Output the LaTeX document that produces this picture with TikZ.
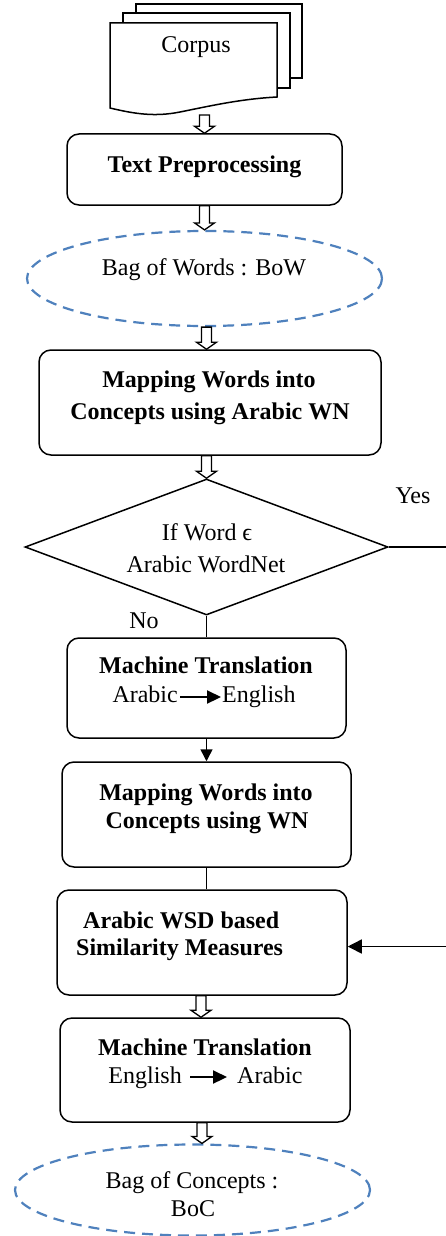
\documentclass[tikz,border=0pt]{standalone}
\usepackage{fontspec}
\setmainfont{Liberation Serif}
\usetikzlibrary{shapes.geometric,arrows.meta,calc}
\definecolor{bagblue}{RGB}{79,129,189}
\begin{document}
\begin{tikzpicture}[x=1pt,y=-1pt,
  every node/.style={font=\fontsize{24}{28}\selectfont},
  box/.style={draw, line width=1.5pt, rounded corners=12pt, inner sep=0pt},
  bag/.style={ellipse, draw=bagblue, line width=2.2pt, dash pattern=on 11pt off 7pt, inner sep=0pt},
  word/.style={inner sep=0pt, anchor=base},
  plainline/.style={draw, line width=1.5pt},
  solidarrow/.style={draw, line width=1.5pt, -{Triangle[length=12pt,width=12pt]}},
  textarrow/.style={draw, line width=2.2pt, -{Triangle[length=14pt,width=13pt]}},
  hollow/.style={draw, line width=1.3pt, to path={let \p1=(\tikztostart), \p2=(\tikztotarget) in
    (\x2-5pt,\y1) -- (\x2+5pt,\y1) -- (\x2+5pt,\y2+7pt) -- (\x2+10pt,\y2+7pt) -- (\x2,\y2)
    -- (\x2-10pt,\y2+7pt) -- (\x2-5pt,\y2+7pt) -- cycle}}]
\useasboundingbox (0,0) rectangle (445,1236);

% document stack for the corpus
\begin{scope}[line width=1.5pt]
  \filldraw[fill=white] (136,4) rectangle (302,78);
  \filldraw[fill=white] (123,13) rectangle (290,88);
  \filldraw[fill=white] (110,108) -- (110,23) -- (277,23) -- (277,97)
    .. controls (240,99) and (210,106) .. (180,112)
    .. controls (155,117) and (135,114) .. (110,108) -- cycle;
\end{scope}
\node[word] (corpusT) at (196,53) {Corpus};
\coordinate (cb) at (205,115);

% process boxes
\node[box, minimum width=275pt, minimum height=71pt] (tp) at (204.5,169.5) {};
\node[bag, minimum width=355pt, minimum height=95pt] (bow) at (204.5,278.5) {};
\node[box, minimum width=342pt, minimum height=105pt] (map1) at (210,402.5) {};
\node[draw, line width=1.5pt, diamond, inner sep=0pt, minimum width=363pt, minimum height=136pt] (dec) at (206.5,547) {};
\node[box, minimum width=279pt, minimum height=100pt] (mt1) at (206.5,688) {};
\node[box, minimum width=289pt, minimum height=105pt] (map2) at (206.5,814.5) {};
\node[box, minimum width=290pt, minimum height=105pt] (wsd) at (202,942.5) {};
\node[box, minimum width=290pt, minimum height=104pt] (mt2) at (205,1070) {};
\node[bag, minimum width=355pt, minimum height=91pt] (boc) at (192.5,1190) {};

% texts
\node[word] (tpT) at (204.5,172) {\textbf{Text Preprocessing}};
\node[word] (bowT) at (204,275) {Bag of Words : BoW};
\node[word] (map1a) at (209,387) {\textbf{Mapping Words into}};
\node[word] (map1b) at (210,419) {\textbf{Concepts using Arabic WN}};
\node[word] (deca) at (207,540) {If Word ϵ};
\node[word] (decb) at (206,572) {Arabic WordNet};
\node[word] (yes) at (413,503) {Yes};
\node[word] (no) at (144,628) {No};
\node[word] (mt1a) at (206,673) {\textbf{Machine Translation}};
\node[word, anchor=base east] (mt1ar) at (178,702) {Arabic};
\node[word, anchor=base west] (mt1en) at (222,702) {English};
\node[word] (map2a) at (206,800) {\textbf{Mapping Words into}};
\node[word] (map2b) at (207,828) {\textbf{Concepts using WN}};
\node[word, anchor=base west] (wsda) at (83,928) {\textbf{Arabic WSD based}};
\node[word, anchor=base west] (wsdb) at (76,955) {\textbf{Similarity Measures}};
\node[word] (mt2a) at (205,1055) {\textbf{Machine Translation}};
\node[word, anchor=base east] (mt2en) at (182,1083) {English};
\node[word, anchor=base west] (mt2ar) at (237,1083) {Arabic};
\node[word] (boca) at (192,1188) {Bag of Concepts :};
\node[word] (bocb) at (193,1216) {BoC};

% arrows inside the translation boxes
\draw[textarrow] ([shift={(2pt,5pt)}]mt1ar.base east) -- ([shift={(-1pt,5pt)}]mt1en.base west);
\draw[textarrow] ([shift={(8pt,6pt)}]mt2en.base east) -- ([shift={(-10pt,6pt)}]mt2ar.base west);

% connectors
\draw[hollow] (cb) to (tp.north);
\draw[hollow] (tp.south) to (bow.north);
\draw[hollow] (bow.south) to (dec.north |- map1.north);
\draw[hollow] (map1.south) to (dec.north);
\draw[plainline] (dec.south) -- (dec.south |- mt1.north);
\draw[solidarrow] (mt1.south) -- (mt1.south |- map2.north);
\draw[plainline] (map2.south) -- (map2.south |- wsd.north);
\draw[hollow] (wsd.south) to ([xshift=-1pt]wsd.south |- mt2.north);
\draw[hollow] (mt2.south) to ([xshift=-3pt]mt2.south |- boc.north);

% the "Yes" branch runs along the right edge
\coordinate (rside) at (447,0);
\coordinate (wsdin) at ($(wsd.east)+(0,4)$);
\draw[line width=1.5pt, -{Triangle[length=14pt,width=14pt]}]
  (dec.east) -- (dec.east -| rside) -- (wsdin -| rside) -- (wsdin);
\end{tikzpicture}
\end{document}
